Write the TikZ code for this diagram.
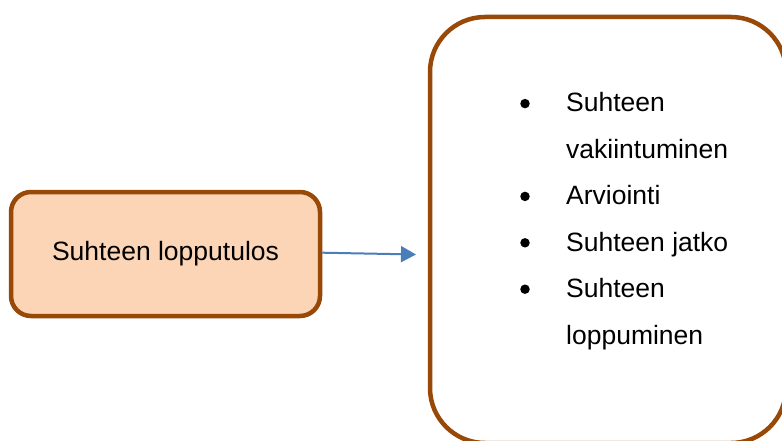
\documentclass[tikz,border=0pt]{standalone}
\usepackage{fontspec}
\setmainfont{Liberation Sans}
\usetikzlibrary{arrows.meta}
\definecolor{boxedge}{HTML}{984807}
\definecolor{boxfill}{HTML}{FBD5B5}
\definecolor{linkblue}{HTML}{4A7EBB}
\tikzset{
  roundbox/.style={draw=boxedge, line width=4.5pt, rectangle, inner sep=0pt},
  itemtext/.style={anchor=base west, inner sep=0pt, font=\fontsize{26.5pt}{30pt}\selectfont},
  bulletdot/.style={circle, fill=black, inner sep=0pt, minimum size=9.5pt},
  link/.style={draw=linkblue, line width=2pt, -{Triangle[length=15pt,width=16pt]}}
}
\begin{document}
\begin{tikzpicture}[x=1pt,y=-1pt]
  \useasboundingbox (0,0) rectangle (782,441);
  \clip (0,0) rectangle (782,441);

  % left box
  \node[roundbox, fill=boxfill, rounded corners=20pt,
        minimum width=309pt, minimum height=124pt,
        font=\fontsize{26.5pt}{30pt}\selectfont] (lbox) at (165.5,254) {Suhteen lopputulos};

  % right box (runs past the page edge)
  \node[roundbox, rounded corners=55pt,
        minimum width=356pt, minimum height=426pt] (rbox) at (608,230) {};

  % list items
  \node[itemtext] (t1) at (566,112) {Suhteen};
  \node[itemtext] (t1b) at (566,158.4) {vakiintuminen};
  \node[itemtext] (t2) at (566,204.8) {Arviointi};
  \node[itemtext] (t3) at (566,251.2) {Suhteen jatko};
  \node[itemtext] (t4) at (566,297.6) {Suhteen};
  \node[itemtext] (t4b) at (566,344) {loppuminen};

  \node[bulletdot] (b1) at (525,103.6) {};
  \node[bulletdot] (b2) at (525,196.4) {};
  \node[bulletdot] (b3) at (525,242.8) {};
  \node[bulletdot] (b4) at (525,289.2) {};

  % connector
  \coordinate (tip) at (416,254.5);
  \draw[link] ([yshift=1.3pt]lbox.east) -- (tip);
\end{tikzpicture}
\end{document}
